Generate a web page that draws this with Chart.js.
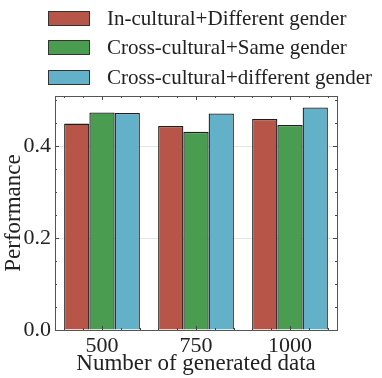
<!DOCTYPE html>
<html>
<head>
<meta charset="utf-8">
<script src="https://cdn.jsdelivr.net/npm/chart.js@4"></script>
<style>
  html, body { margin: 0; padding: 0; background: #fff; }
  #wrap { position: relative; width: 382px; height: 378px; }
  #legend { position: absolute; left: 48px; top: 0; font-family: "Liberation Serif", serif; font-size: 21px; color: #222; }
  .row { position: absolute; left: 0; height: 20px; white-space: nowrap; display: flex; align-items: center; }
  .box { width: 40px; height: 13px; border: 1px solid #333; margin-right: 17px; }
</style>
</head>
<body>
<div id="wrap">
  <canvas id="chart" width="382" height="378"></canvas>
  <div id="legend"></div>
</div>
<script>
const categories = ['500', '750', '1000'];
const seriesNames = ['In-cultural+Different gender', 'Cross-cultural+Same gender', 'Cross-cultural+different gender'];
const inCulturalDiff = [0.449, 0.444, 0.459];
const crossCulturalSame = [0.473, 0.431, 0.446];
const crossCulturalDiff = [0.472, 0.471, 0.484];
const yTicks = [0.0, 0.2, 0.4];
const colors = ['#b75648', '#4a9c50', '#63b0c9'];

const tickFont = { family: '"Liberation Serif", serif', size: 22 };
const titleFont = { family: '"Liberation Serif", serif', size: 23 };

// inward matplotlib-style ticks and frame
const frame = {
    id: 'frame',
    afterDraw(chart) {
        const { ctx, chartArea: a, scales } = chart;
        ctx.save();
        ctx.strokeStyle = '#444';
        ctx.lineWidth = 1;
        ctx.beginPath();
        // y ticks, minor every 0.05
        for (let v = 0; v <= scales.y.max + 1e-9; v += 0.05) {
            const y = Math.round(scales.y.getPixelForValue(v)) + 0.5;
            const major = Math.abs(v / 0.2 - Math.round(v / 0.2)) < 1e-6;
            const len = major ? 4 : 2;
            ctx.moveTo(a.left, y); ctx.lineTo(a.left + len, y);
            ctx.moveTo(a.right, y); ctx.lineTo(a.right - len, y);
        }
        // x ticks, minor every 0.2 category
        for (let k = -2; k <= (categories.length - 1) * 5 + 2; k++) {
            const x = Math.round(scales.x.getPixelForValue(k / 5)) + 0.5;
            const len = k % 5 === 0 ? 4 : 2;
            ctx.moveTo(x, a.top); ctx.lineTo(x, a.top + len);
            ctx.moveTo(x, a.bottom); ctx.lineTo(x, a.bottom - len);
        }
        ctx.stroke();
        ctx.strokeStyle = '#555';
        ctx.strokeRect(Math.round(a.left) + 0.5, Math.round(a.top) + 0.5, Math.round(a.right - a.left), Math.round(a.bottom - a.top));
        ctx.restore();
    }
};

const seriesValues = [inCulturalDiff, crossCulturalSame, crossCulturalDiff];

const chart = new Chart(document.getElementById('chart'), {
    type: 'bar',
    data: {
        labels: categories,
        datasets: seriesNames.map((name, i) => ({
            label: name,
            data: seriesValues[i],
            backgroundColor: colors[i],
            borderColor: '#1e1e1e',
            borderWidth: 1.3,
            categoryPercentage: 0.806,
            barPercentage: 1.0
        }))
    },
    options: {
        responsive: false,
        animation: false,
        layout: { padding: { top: 96, right: 45, left: 0, bottom: 0 } },
        plugins: { legend: { display: false }, tooltip: { enabled: false } },
        scales: {
            x: {
                grid: { display: false, drawTicks: false },
                border: { display: false },
                ticks: { font: tickFont, color: '#222', padding: 3 },
                title: { display: true, text: 'Number of generated data', font: titleFont, color: '#222', padding: { top: 0, bottom: 0 } },
                afterFit(scale) { scale.height = 48; }
            },
            y: {
                min: 0,
                max: 0.509,
                grid: { color: 'rgba(0,0,0,0.1)', drawTicks: false },
                border: { display: false },
                ticks: {
                    font: tickFont, color: '#222', padding: 4,
                    callback: v => v.toFixed(1)
                },
                afterBuildTicks(scale) { scale.ticks = yTicks.map(v => ({ value: v })); },
                title: { display: true, text: 'Performance', font: titleFont, color: '#222', padding: { top: 0, bottom: 0 } },
                afterFit(scale) { scale.width = 55; }
            }
        }
    },
    plugins: [frame]
});

// legend rows built from the datasets
const rowCenters = [18, 47, 77];
const legend = document.getElementById('legend');
chart.data.datasets.forEach((ds, i) => {
    const row = document.createElement('div');
    row.className = 'row';
    row.style.top = (rowCenters[i] - 10) + 'px';
    const box = document.createElement('span');
    box.className = 'box';
    box.style.background = ds.backgroundColor;
    const txt = document.createElement('span');
    txt.textContent = ds.label;
    row.appendChild(box);
    row.appendChild(txt);
    legend.appendChild(row);
});
</script>
</body>
</html>
